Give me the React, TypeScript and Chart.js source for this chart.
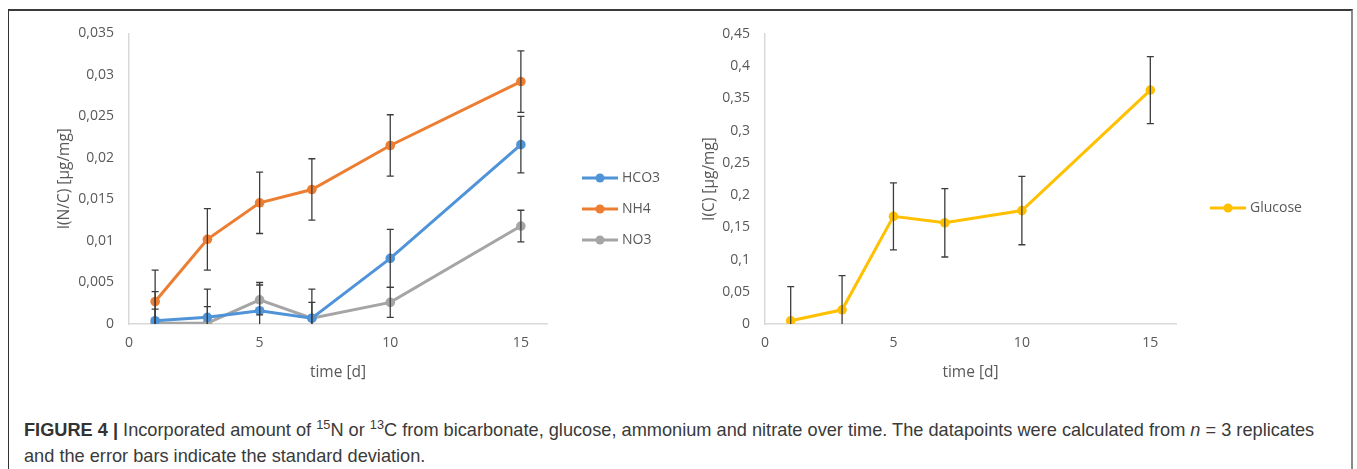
import React, { useEffect, useRef } from "react";
import { Chart, registerables } from "chart.js";

Chart.register(...registerables);

// ---- data ----
const days = [1, 3, 5, 7, 10, 15];
const hco3 = [0.0004, 0.0008, 0.0016, 0.0007, 0.0079, 0.0216];
const hco3Sd = [0.0035, 0.0034, 0.0034, 0.0035, 0.0035, 0.0034];
const nh4 = [0.0027, 0.0102, 0.0146, 0.0162, 0.0215, 0.0292];
const nh4Sd = [0.0038, 0.0037, 0.0037, 0.0037, 0.0037, 0.0037];
const no3 = [0.0001, 0.0001, 0.0029, 0.0007, 0.0026, 0.0118];
const no3Sd = [0.0017, 0.002, 0.0018, 0.0019, 0.0018, 0.0019];
const glucose = [0.005, 0.022, 0.167, 0.157, 0.176, 0.363];
const glucoseSd = [0.053, 0.053, 0.052, 0.053, 0.053, 0.052];

const xTicks = [0, 5, 10, 15];
const leftYTicks = [0, 0.005, 0.01, 0.015, 0.02, 0.025, 0.03, 0.035];
const rightYTicks = [0, 0.05, 0.1, 0.15, 0.2, 0.25, 0.3, 0.35, 0.4, 0.45];

const leftSeries = ["HCO3", "NH4", "NO3"];
const rightSeries = ["Glucose"];

const BLUE = "#4f93d8";
const ORANGE = "#ed7d31";
const GRAY = "#a5a5a5";
const GOLD = "#ffc000";
const TEXT = "#595959";
const AXIS = "#d9d9d9";
const FONT = "'Open Sans', 'Noto Sans', sans-serif";

function pts(ys: number[]) {
  return days.map((d, i) => ({ x: d, y: ys[i] }));
}

function errorPlugin(errors: number[][]) {
  return {
    id: "errorBars",
    afterDatasetsDraw(chart: any) {
      const { ctx, chartArea, scales } = chart;
      ctx.save();
      ctx.beginPath();
      ctx.rect(chartArea.left, chartArea.top - 20, chartArea.right - chartArea.left, chartArea.bottom - chartArea.top + 20);
      ctx.clip();
      ctx.strokeStyle = "#3c3c3c";
      ctx.lineWidth = 1.3;
      chart.data.datasets.forEach((ds: any, i: number) => {
        const err = errors[i];
        ds.data.forEach((p: any, j: number) => {
          const x = scales.x.getPixelForValue(p.x);
          const yt = scales.y.getPixelForValue(p.y + err[j]);
          const yb = scales.y.getPixelForValue(p.y - err[j]);
          ctx.beginPath();
          ctx.moveTo(x, yt);
          ctx.lineTo(x, yb);
          ctx.moveTo(x - 3.5, yt);
          ctx.lineTo(x + 3.5, yt);
          ctx.moveTo(x - 3.5, yb);
          ctx.lineTo(x + 3.5, yb);
          ctx.stroke();
        });
      });
      ctx.restore();
    },
  };
}

function legendPlugin(dx: number, ys: number[]) {
  return {
    id: "customLegend",
    afterDraw(chart: any) {
      const { ctx, chartArea } = chart;
      ctx.save();
      chart.data.datasets.forEach((ds: any, i: number) => {
        const x0 = chartArea.right + dx;
        const y = ys[i];
        ctx.strokeStyle = ds.borderColor;
        ctx.lineWidth = 2.8;
        ctx.beginPath();
        ctx.moveTo(x0, y);
        ctx.lineTo(x0 + 36, y);
        ctx.stroke();
        ctx.fillStyle = ds.borderColor;
        ctx.beginPath();
        ctx.arc(x0 + 18, y, 4.5, 0, Math.PI * 2);
        ctx.fill();
        ctx.fillStyle = TEXT;
        ctx.font = `14px ${FONT}`;
        ctx.textBaseline = "middle";
        ctx.textAlign = "left";
        ctx.fillText(ds.label, x0 + 40, y);
      });
      ctx.restore();
    },
  };
}

const fmt = (v: any) => String(v).replace(".", ",");

function makeOptions(yTicks: number[], yMax: number, yTitle: string, yWidth: number, titlePad: number, padRight: number, padTop: number) {
  return {
    responsive: false,
    animation: false as const,
    layout: { padding: { left: 0, right: padRight, top: padTop, bottom: 11 } },
    plugins: { legend: { display: false }, tooltip: { enabled: false } },
    scales: {
      x: {
        type: "linear" as const,
        min: 0,
        max: 16,
        afterBuildTicks: (s: any) => {
          s.ticks = xTicks.map((v) => ({ value: v }));
        },
        afterFit: (s: any) => {
          s.height = 60;
        },
        grid: { display: false, drawTicks: false },
        border: { display: true, color: AXIS, width: 1.5 },
        ticks: { color: TEXT, font: { family: FONT, size: 14 }, padding: 11, callback: fmt },
        title: { display: true, text: "time [d]", color: TEXT, font: { family: FONT, size: 15.5 }, padding: { top: 0, bottom: 2 } },
      },
      y: {
        type: "linear" as const,
        min: 0,
        max: yMax,
        afterBuildTicks: (s: any) => {
          s.ticks = yTicks.map((v) => ({ value: v }));
        },
        afterFit: (s: any) => {
          s.width = yWidth;
        },
        grid: { display: false, drawTicks: false },
        border: { display: true, color: AXIS, width: 1.5 },
        ticks: { color: TEXT, font: { family: FONT, size: 14 }, padding: 15, callback: fmt },
        title: { display: true, text: yTitle, color: TEXT, font: { family: FONT, size: 15.5 }, padding: { top: titlePad, bottom: 0 } },
      },
    },
  };
}

function ds(label: string, ys: number[], color: string) {
  return {
    label,
    data: pts(ys),
    borderColor: color,
    backgroundColor: color,
    borderWidth: 3,
    pointRadius: 4.8,
    pointBorderWidth: 0,
    pointBackgroundColor: color,
    tension: 0,
  };
}

export default function App() {
  const leftRef = useRef<HTMLCanvasElement>(null);
  const rightRef = useRef<HTMLCanvasElement>(null);

  useEffect(() => {
    const left = new Chart(leftRef.current!, {
      type: "line",
      data: {
        datasets: [ds(leftSeries[0], hco3, BLUE), ds(leftSeries[1], nh4, ORANGE), ds(leftSeries[2], no3, GRAY)],
      },
      options: makeOptions(leftYTicks, 0.035, "I(N/C) [µg/mg]", 109, 35, 153, 23) as any,
      plugins: [errorPlugin([hco3Sd, nh4Sd, no3Sd]), legendPlugin(35, [168, 199, 230])],
    });
    const right = new Chart(rightRef.current!, {
      type: "line",
      data: { datasets: [ds(rightSeries[0], glucose, GOLD)] },
      options: makeOptions(rightYTicks, 0.45, "I(C) [µg/mg]", 65, 0, 174, 24) as any,
      plugins: [errorPlugin([glucoseSd]), legendPlugin(34, [198])],
    });
    return () => {
      left.destroy();
      right.destroy();
    };
  }, []);

  return (
    <div style={{ position: "absolute", left: 0, top: 0, width: 1357, height: 469, background: "#fff", overflow: "hidden" }}>
      <div
        style={{
          position: "absolute",
          left: 8,
          top: 9,
          width: 1345,
          height: 470,
          borderLeft: "1px solid #333",
          borderTop: "2px solid #3a3a3a",
          borderRight: "2px solid #8a8a8a",
          boxSizing: "border-box",
        }}
      />
      <canvas ref={leftRef} width={680} height={385} style={{ position: "absolute", left: 20, top: 10 }} />
      <canvas ref={rightRef} width={650} height={385} style={{ position: "absolute", left: 700, top: 10 }} />
      <div
        style={{
          position: "absolute",
          left: 24,
          top: 417,
          whiteSpace: "nowrap",
          fontFamily: "'Liberation Sans', Arial, sans-serif",
          fontSize: 18.2,
          lineHeight: "26px",
          color: "#3a3a3a",
        }}
      >
        <span style={{ fontWeight: "bold", color: "#333" }}>FIGURE 4 |</span> Incorporated amount of{" "}
        <sup style={{ fontSize: "0.7em", lineHeight: 0 }}>15</sup>N or <sup style={{ fontSize: "0.7em", lineHeight: 0 }}>13</sup>C
        from bicarbonate, glucose, ammonium and nitrate over time. The datapoints were calculated from <i>n</i> = 3 replicates
        <br />
        and the error bars indicate the standard deviation.
      </div>
    </div>
  );
}
